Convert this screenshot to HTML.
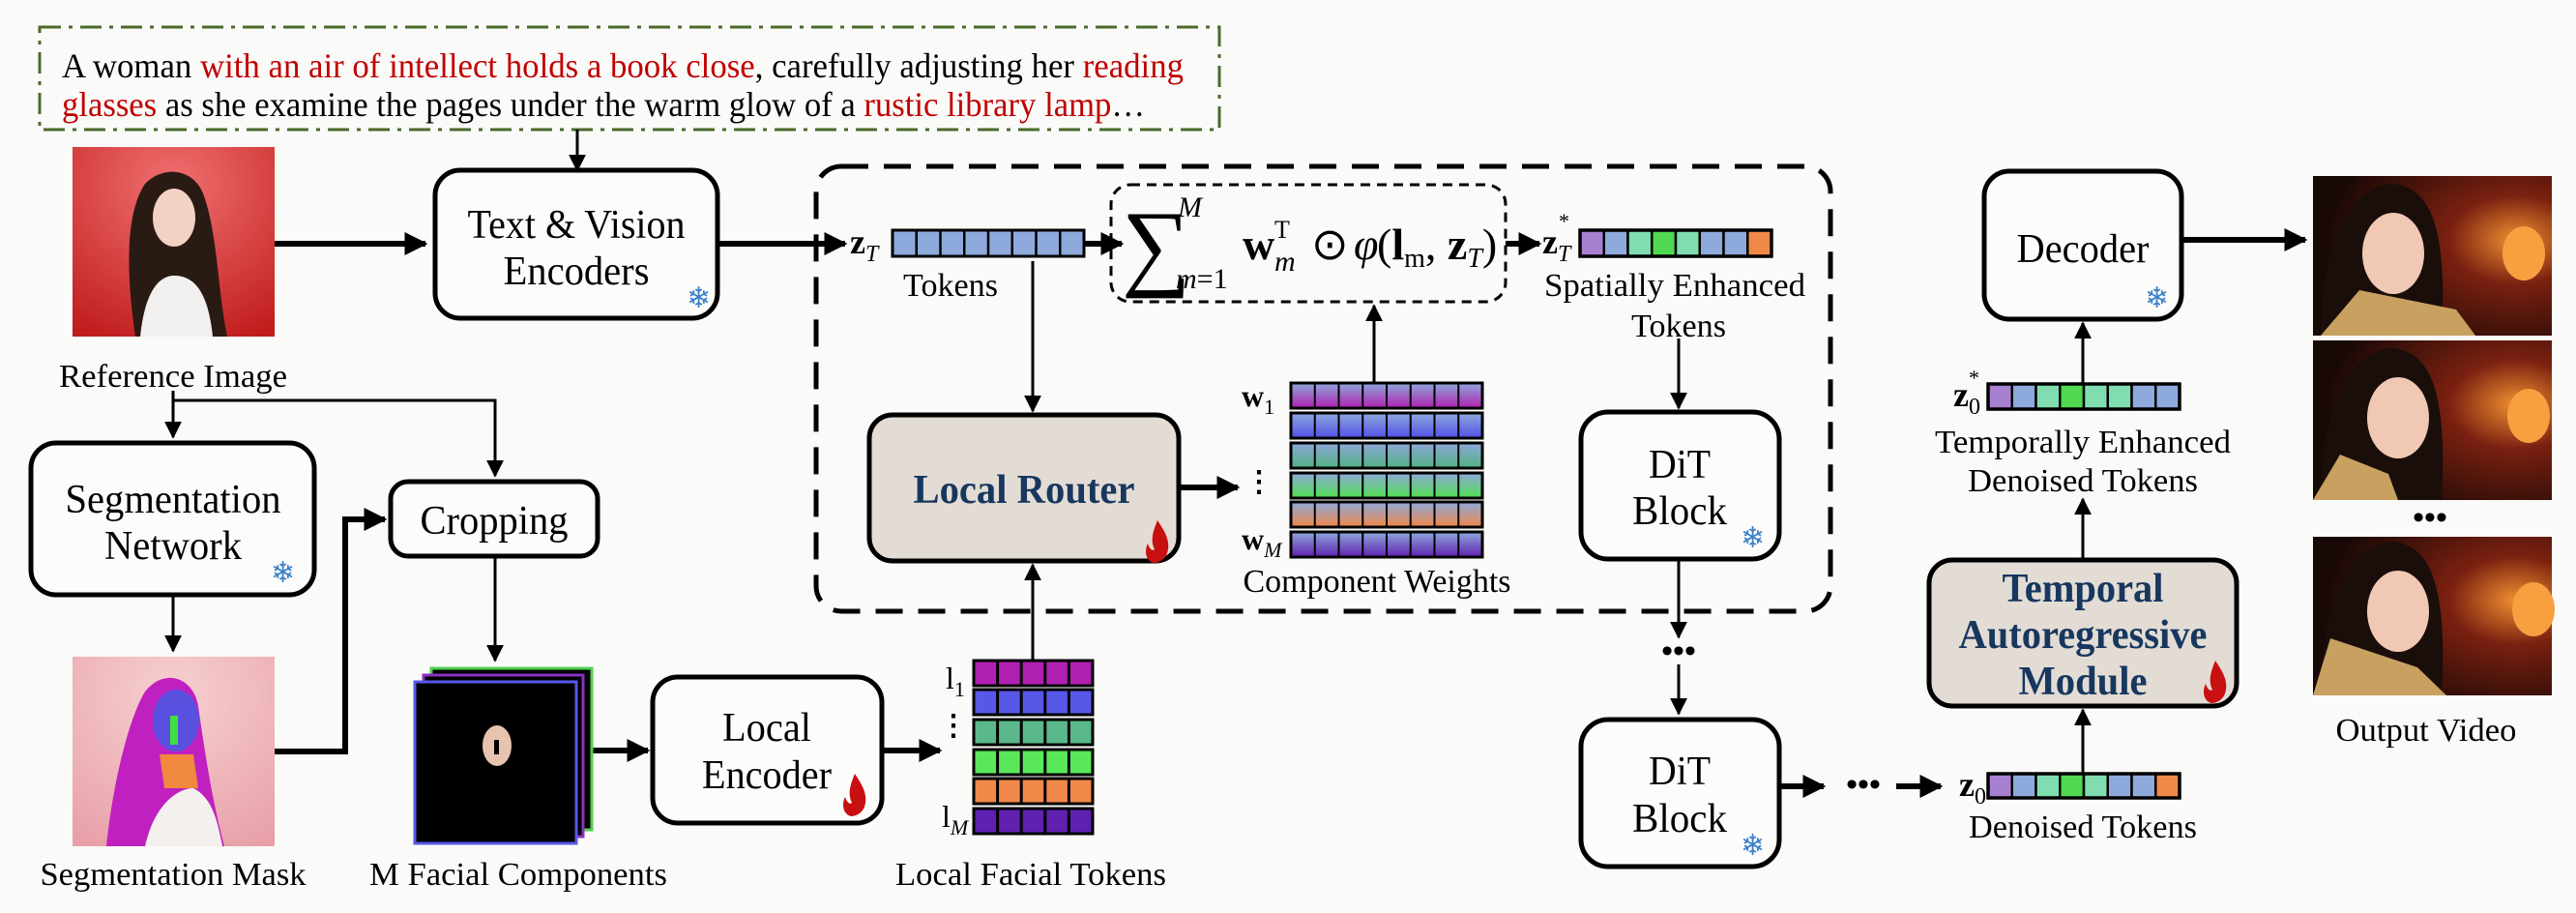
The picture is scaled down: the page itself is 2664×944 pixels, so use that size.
<!DOCTYPE html>
<html><head><meta charset="utf-8"><style>
html,body{margin:0;padding:0;background:#fafaf8;}
svg{display:block;}
svg text{font-family:"Liberation Serif","Times New Roman",serif;fill:#000;}
.b{font-weight:bold;fill:#17375e !important;}
</style></head><body>
<svg width="2664" height="944" viewBox="0 0 2664 944" xmlns="http://www.w3.org/2000/svg" font-family="Liberation Serif, serif">
<defs>
<marker id="ah" viewBox="0 0 10 10" refX="9" refY="5" markerWidth="4" markerHeight="4" orient="auto-start-reverse" markerUnits="strokeWidth"><path d="M0,0 L10,5 L0,10 z" fill="#000"/></marker>
<marker id="ah2" viewBox="0 0 10 10" refX="9" refY="5" markerWidth="6" markerHeight="6" orient="auto" markerUnits="strokeWidth"><path d="M0,0 L10,5 L0,10 z" fill="#000"/></marker>
<linearGradient id="g1" x1="0" y1="0" x2="0" y2="1"><stop offset="0" stop-color="#8ea9db"/><stop offset="1" stop-color="#b020b0"/></linearGradient>
<linearGradient id="g2" x1="0" y1="0" x2="0" y2="1"><stop offset="0" stop-color="#8ea9db"/><stop offset="1" stop-color="#5050e8"/></linearGradient>
<linearGradient id="g3" x1="0" y1="0" x2="0" y2="1"><stop offset="0" stop-color="#8ea9db"/><stop offset="1" stop-color="#50b080"/></linearGradient>
<linearGradient id="g4" x1="0" y1="0" x2="0" y2="1"><stop offset="0" stop-color="#8ea9db"/><stop offset="1" stop-color="#50e050"/></linearGradient>
<linearGradient id="g5" x1="0" y1="0" x2="0" y2="1"><stop offset="0" stop-color="#8ea9db"/><stop offset="1" stop-color="#f08848"/></linearGradient>
<linearGradient id="g6" x1="0" y1="0" x2="0" y2="1"><stop offset="0" stop-color="#8ea9db"/><stop offset="1" stop-color="#6020b0"/></linearGradient>
<radialGradient id="red" cx="0.5" cy="0.2" r="0.9"><stop offset="0" stop-color="#f07070"/><stop offset="1" stop-color="#c01c1c"/></radialGradient>
<radialGradient id="pink" cx="0.5" cy="0.2" r="0.9"><stop offset="0" stop-color="#f6d0d0"/><stop offset="1" stop-color="#e8a0a8"/></radialGradient>
<radialGradient id="vid" cx="0.85" cy="0.4" r="0.8"><stop offset="0" stop-color="#f09030"/><stop offset="0.35" stop-color="#7a2010"/><stop offset="1" stop-color="#180806"/></radialGradient>
<g id="flame"><path d="M0,-22 C8,-10 14,0 10,12 C8,18 2,22 -4,22 C-12,20 -14,10 -10,2 C-8,8 -5,10 -3,8 C-8,-2 -4,-12 0,-22 z" fill="#c81010"/></g>
</defs>

<!-- prompt box -->
<rect x="41" y="28" width="1220" height="106" fill="none" stroke="#4a6a2a" stroke-width="3" stroke-dasharray="22 8 4 8"/>
<text x="64" y="80" font-size="36" textLength="1160" lengthAdjust="spacingAndGlyphs">A woman <tspan style="fill:#c00000">with an air of intellect holds a book close</tspan>, carefully adjusting her <tspan style="fill:#c00000">reading</tspan></text>
<text x="64" y="120" font-size="36" textLength="1120" lengthAdjust="spacingAndGlyphs"><tspan style="fill:#c00000">glasses</tspan> as she examine the pages under the warm glow of a <tspan style="fill:#c00000">rustic library lamp</tspan>…</text>

<g stroke="#000" fill="none">
<line x1="597" y1="134" x2="597" y2="176" stroke-width="3" marker-end="url(#ah2)"/>
<line x1="284" y1="252" x2="440" y2="252" stroke-width="6" marker-end="url(#ah)"/>
<line x1="742" y1="252" x2="874" y2="252" stroke-width="6" marker-end="url(#ah)"/>
</g>

<!-- reference image -->
<rect x="75" y="152" width="209" height="196" fill="url(#red)"/>
<path d="M140,348 C130,280 130,220 150,190 C170,170 200,175 210,200 C225,240 225,300 235,348 z" fill="#2a1a14"/>
<ellipse cx="180" cy="225" rx="22" ry="30" fill="#f2d2c4"/>
<path d="M145,348 C150,300 165,285 180,285 C200,285 215,300 220,348 z" fill="#f2f0ee"/>
<text x="179" y="400" font-size="34" text-anchor="middle" textLength="236" lengthAdjust="spacingAndGlyphs">Reference Image</text>

<!-- TVE box -->
<rect x="450" y="176" width="292" height="153" rx="26" fill="#fcfcfb" stroke="#000" stroke-width="5"/>
<text x="596" y="246" font-size="42" text-anchor="middle" textLength="225" lengthAdjust="spacingAndGlyphs">Text &amp; Vision</text>
<text x="596" y="294" font-size="42" text-anchor="middle" textLength="151" lengthAdjust="spacingAndGlyphs">Encoders</text>
<text x="710" y="318" font-size="30" style="fill:#3a80c8">❄</text>

<!-- split lines -->
<g stroke="#000" fill="none" stroke-width="4">
<polyline points="179,404 179,414 512,414 512,492" marker-end="url(#ah2)" stroke-width="3"/>
<line x1="179" y1="414" x2="179" y2="452" stroke-width="3" marker-end="url(#ah2)"/>
<line x1="179" y1="615" x2="179" y2="673" stroke-width="3" marker-end="url(#ah2)"/>
<polyline points="284,777 357,777 357,537 398,537" stroke-width="6" marker-end="url(#ah)"/>
<line x1="512" y1="575" x2="512" y2="683" stroke-width="3" marker-end="url(#ah2)"/>
<line x1="612" y1="776" x2="670" y2="776" stroke-width="6" marker-end="url(#ah)"/>
<line x1="912" y1="776" x2="972" y2="776" stroke-width="6" marker-end="url(#ah)"/>
</g>

<!-- segmentation network -->
<rect x="32" y="458" width="293" height="157" rx="26" fill="#fcfcfb" stroke="#000" stroke-width="5"/>
<text x="179" y="530" font-size="42" text-anchor="middle" textLength="223" lengthAdjust="spacingAndGlyphs">Segmentation</text>
<text x="179" y="578" font-size="42" text-anchor="middle" textLength="142" lengthAdjust="spacingAndGlyphs">Network</text>
<text x="280" y="602" font-size="30" style="fill:#3a80c8">❄</text>

<!-- seg mask -->
<rect x="75" y="679" width="209" height="196" fill="url(#pink)"/>
<path d="M110,875 C118,800 135,740 150,715 C170,690 200,700 205,730 C212,780 220,830 232,875 z" fill="#c020c0"/>
<ellipse cx="182" cy="745" rx="24" ry="32" fill="#5a50e0"/>
<rect x="176" y="740" width="8" height="30" fill="#40e040"/>
<path d="M165,780 L200,780 L205,815 L170,815 z" fill="#f08840"/>
<path d="M150,875 C160,830 185,815 200,815 C220,825 225,850 230,875 z" fill="#f4f0ee"/>
<text x="179" y="915" font-size="34" text-anchor="middle" textLength="275" lengthAdjust="spacingAndGlyphs">Segmentation Mask</text>

<!-- cropping -->
<rect x="404" y="498" width="214" height="77" rx="18" fill="#fcfcfb" stroke="#000" stroke-width="5"/>
<text x="511" y="552" font-size="42" text-anchor="middle" textLength="153" lengthAdjust="spacingAndGlyphs">Cropping</text>

<!-- facial stack -->
<rect x="446" y="691" width="166" height="167" fill="#000" stroke="#50d050" stroke-width="3"/>
<rect x="438" y="698" width="165" height="167" fill="#000" stroke="#8a30c0" stroke-width="3"/>
<rect x="429" y="705" width="167" height="167" fill="#000" stroke="#5858e8" stroke-width="3"/>
<ellipse cx="514" cy="771" rx="15" ry="21" fill="#e8c4b0"/>
<rect x="511" y="765" width="5" height="15" fill="#000"/>
<text x="536" y="915" font-size="34" text-anchor="middle" textLength="308" lengthAdjust="spacingAndGlyphs">M Facial Components</text>

<!-- local encoder -->
<rect x="675" y="700" width="237" height="151" rx="26" fill="#fcfcfb" stroke="#000" stroke-width="5"/>
<text x="793" y="766" font-size="42" text-anchor="middle" textLength="92" lengthAdjust="spacingAndGlyphs">Local</text>
<text x="793" y="815" font-size="42" text-anchor="middle" textLength="134" lengthAdjust="spacingAndGlyphs">Encoder</text>
<use href="#flame" x="884" y="822"/>

<!-- local facial tokens -->
<text x="986" y="760" font-size="30" font-weight="bold" text-anchor="middle">⋮</text>
<text x="978" y="712" font-size="32">l<tspan font-size="22" dy="8">1</tspan></text>
<text x="974" y="855" font-size="32">l<tspan font-size="22" dy="8" font-style="italic">M</tspan></text>
<g stroke="#000" stroke-width="3">
<rect x="1007" y="683" width="123" height="26" fill="#b020b0"/>
<rect x="1007" y="713" width="123" height="26" fill="#5858e8"/>
<rect x="1007" y="744" width="123" height="26" fill="#5ab88a"/>
<rect x="1007" y="775" width="123" height="26" fill="#5ae85a"/>
<rect x="1007" y="805" width="123" height="26" fill="#f0884a"/>
<rect x="1007" y="836" width="123" height="26" fill="#6020b0"/>
<path d="M1031.6,683 V709 M1056.2,683 V709 M1080.8,683 V709 M1105.4,683 V709 M1031.6,713 V739 M1056.2,713 V739 M1080.8,713 V739 M1105.4,713 V739 M1031.6,744 V770 M1056.2,744 V770 M1080.8,744 V770 M1105.4,744 V770 M1031.6,775 V801 M1056.2,775 V801 M1080.8,775 V801 M1105.4,775 V801 M1031.6,805 V831 M1056.2,805 V831 M1080.8,805 V831 M1105.4,805 V831 M1031.6,836 V862 M1056.2,836 V862 M1080.8,836 V862 M1105.4,836 V862"/>
</g>
<text x="1066" y="915" font-size="34" text-anchor="middle" textLength="280" lengthAdjust="spacingAndGlyphs">Local Facial Tokens</text>

<!-- big dashed box -->
<rect x="844" y="172" width="1049" height="460" rx="26" fill="none" stroke="#000" stroke-width="5" stroke-dasharray="28 16"/>

<!-- z_T tokens -->
<text x="879" y="262" font-size="36" font-weight="bold">z<tspan font-size="24" font-style="italic" font-weight="normal" dy="8">T</tspan></text>
<rect x="923" y="238" width="198" height="27" fill="#8ea9db" stroke="#000" stroke-width="3"/>
<path d="M947.75,238 V265 M972.5,238 V265 M997.25,238 V265 M1022,238 V265 M1046.75,238 V265 M1071.5,238 V265 M1096.25,238 V265" stroke="#000" stroke-width="2.5"/>
<text x="983" y="306" font-size="34" text-anchor="middle" textLength="98" lengthAdjust="spacingAndGlyphs">Tokens</text>

<g stroke="#000" fill="none">
<line x1="1121" y1="252" x2="1160" y2="252" stroke-width="6" marker-end="url(#ah)"/>
<line x1="1068" y1="270" x2="1068" y2="425" stroke-width="3" marker-end="url(#ah2)"/>
<line x1="1068" y1="683" x2="1068" y2="584" stroke-width="3" marker-end="url(#ah2)"/>
<line x1="1219" y1="504" x2="1280" y2="504" stroke-width="6" marker-end="url(#ah)"/>
<line x1="1421" y1="396" x2="1421" y2="316" stroke-width="3" marker-end="url(#ah2)"/>
<line x1="1557" y1="252" x2="1592" y2="252" stroke-width="6" marker-end="url(#ah)"/>
</g>

<!-- formula box -->
<rect x="1149" y="191" width="408" height="121" rx="20" fill="none" stroke="#000" stroke-width="3" stroke-dasharray="10 7"/>
<text x="1160" y="287" font-size="100">∑</text>
<text x="1218" y="224" font-size="30" font-style="italic">M</text>
<text x="1216" y="298" font-size="30" font-style="italic">m<tspan font-style="normal">=1</tspan></text>
<text x="1285" y="268" font-size="46" font-weight="bold">w</text>
<text x="1318" y="246" font-size="26">T</text>
<text x="1318" y="280" font-size="30" font-style="italic">m</text>
<text x="1356" y="268" font-size="46">⊙</text>
<text x="1400" y="268" font-size="46" font-style="italic">φ</text>
<text x="1424" y="268" font-size="46">(<tspan font-weight="bold">l</tspan><tspan font-size="28" dy="8">m</tspan><tspan dy="-8">, </tspan><tspan font-weight="bold">z</tspan><tspan font-size="28" font-style="italic" dy="8">T</tspan><tspan dy="-8">)</tspan></text>

<!-- z_T* -->
<text x="1595" y="262" font-size="36" font-weight="bold">z<tspan font-size="24" font-style="italic" font-weight="normal" dy="8">T</tspan></text>
<text x="1612" y="236" font-size="22">*</text>
<g stroke="#000" stroke-width="2.5">
<rect x="1634" y="238" width="24.75" height="27" fill="#a880d0"/>
<rect x="1658.75" y="238" width="24.75" height="27" fill="#8ea9db"/>
<rect x="1683.5" y="238" width="24.75" height="27" fill="#80ddb0"/>
<rect x="1708.25" y="238" width="24.75" height="27" fill="#50d850"/>
<rect x="1733" y="238" width="24.75" height="27" fill="#80ddb0"/>
<rect x="1757.75" y="238" width="24.75" height="27" fill="#8ea9db"/>
<rect x="1782.5" y="238" width="24.75" height="27" fill="#8ea9db"/>
<rect x="1807.25" y="238" width="24.75" height="27" fill="#f08848"/>
</g>
<rect x="1634" y="238" width="198" height="27" fill="none" stroke="#000" stroke-width="3.5"/>
<text x="1732" y="306" font-size="34" text-anchor="middle" textLength="270" lengthAdjust="spacingAndGlyphs">Spatially Enhanced</text>
<text x="1736" y="348" font-size="34" text-anchor="middle" textLength="98" lengthAdjust="spacingAndGlyphs">Tokens</text>

<!-- local router -->
<rect x="899" y="429" width="320" height="151" rx="24" fill="#e3dcd5" stroke="#000" stroke-width="5"/>
<text x="1059" y="520" font-size="42" class="b" text-anchor="middle" textLength="229" lengthAdjust="spacingAndGlyphs">Local Router</text>
<use href="#flame" x="1197" y="560"/>

<!-- weights -->
<text x="1302" y="508" font-size="30" font-weight="bold" text-anchor="middle">⋮</text>
<text x="1284" y="420" font-size="32" font-weight="bold">w<tspan font-size="22" font-weight="normal" dy="8">1</tspan></text>
<text x="1284" y="568" font-size="32" font-weight="bold">w<tspan font-size="22" font-weight="normal" font-style="italic" dy="8">M</tspan></text>
<g stroke="#000" stroke-width="3">
<rect x="1335" y="396" width="198" height="26" fill="url(#g1)"/>
<rect x="1335" y="427" width="198" height="26" fill="url(#g2)"/>
<rect x="1335" y="458" width="198" height="26" fill="url(#g3)"/>
<rect x="1335" y="489" width="198" height="26" fill="url(#g4)"/>
<rect x="1335" y="519" width="198" height="26" fill="url(#g5)"/>
<rect x="1335" y="550" width="198" height="26" fill="url(#g6)"/>
</g>
<g stroke="#000" stroke-width="2">
<path d="M1359.75,396 V576 M1384.5,396 V576 M1409.25,396 V576 M1434,396 V576 M1458.75,396 V576 M1483.5,396 V576 M1508.25,396 V576" stroke-dasharray="26 5 26 5 26 4 26 5 26 4 26"/>
</g>
<text x="1424" y="612" font-size="34" text-anchor="middle" textLength="277" lengthAdjust="spacingAndGlyphs">Component Weights</text>

<!-- DiT blocks -->
<g stroke="#000" fill="none" stroke-width="3">
<line x1="1736" y1="350" x2="1736" y2="422" marker-end="url(#ah2)"/>
<line x1="1736" y1="578" x2="1736" y2="659" marker-end="url(#ah2)"/>
<line x1="1736" y1="687" x2="1736" y2="738" marker-end="url(#ah2)"/>
</g>
<text x="1736" y="684" font-size="34" font-weight="bold" text-anchor="middle">•••</text>
<rect x="1635" y="426" width="205" height="152" rx="28" fill="#fcfcfb" stroke="#000" stroke-width="5"/>
<text x="1737" y="494" font-size="42" text-anchor="middle" textLength="64" lengthAdjust="spacingAndGlyphs">DiT</text>
<text x="1737" y="542" font-size="42" text-anchor="middle" textLength="98" lengthAdjust="spacingAndGlyphs">Block</text>
<text x="1800" y="566" font-size="30" style="fill:#3a80c8">❄</text>
<rect x="1635" y="744" width="205" height="152" rx="28" fill="#fcfcfb" stroke="#000" stroke-width="5"/>
<text x="1737" y="811" font-size="42" text-anchor="middle" textLength="64" lengthAdjust="spacingAndGlyphs">DiT</text>
<text x="1737" y="860" font-size="42" text-anchor="middle" textLength="98" lengthAdjust="spacingAndGlyphs">Block</text>
<text x="1800" y="884" font-size="30" style="fill:#3a80c8">❄</text>

<g stroke="#000" fill="none" stroke-width="6">
<line x1="1840" y1="813" x2="1886" y2="813" marker-end="url(#ah)"/>
<line x1="1961" y1="813" x2="2007" y2="813" marker-end="url(#ah)"/>
</g>
<text x="1927" y="822" font-size="34" font-weight="bold" text-anchor="middle">•••</text>

<!-- z_0 -->
<text x="2026" y="823" font-size="36" font-weight="bold">z<tspan font-size="24" font-weight="normal" dy="8">0</tspan></text>
<g stroke="#000" stroke-width="2.5">
<rect x="2056" y="800" width="24.75" height="25" fill="#a880d0"/>
<rect x="2080.75" y="800" width="24.75" height="25" fill="#8ea9db"/>
<rect x="2105.5" y="800" width="24.75" height="25" fill="#80ddb0"/>
<rect x="2130.25" y="800" width="24.75" height="25" fill="#50d850"/>
<rect x="2155" y="800" width="24.75" height="25" fill="#80ddb0"/>
<rect x="2179.75" y="800" width="24.75" height="25" fill="#8ea9db"/>
<rect x="2204.5" y="800" width="24.75" height="25" fill="#8ea9db"/>
<rect x="2229.25" y="800" width="24.75" height="25" fill="#f08848"/>
</g>
<rect x="2056" y="800" width="198" height="25" fill="none" stroke="#000" stroke-width="3.5"/>
<text x="2154" y="866" font-size="34" text-anchor="middle" textLength="236" lengthAdjust="spacingAndGlyphs">Denoised Tokens</text>

<g stroke="#000" fill="none" stroke-width="3">
<line x1="2154" y1="800" x2="2154" y2="734" marker-end="url(#ah2)"/>
<line x1="2154" y1="579" x2="2154" y2="516" marker-end="url(#ah2)"/>
<line x1="2154" y1="397" x2="2154" y2="334" marker-end="url(#ah2)"/>
<line x1="2256" y1="248" x2="2384" y2="248" stroke-width="6" marker-end="url(#ah)"/>
</g>

<!-- TAM -->
<rect x="1995" y="579" width="318" height="151" rx="24" fill="#e3dcd5" stroke="#000" stroke-width="5"/>
<text x="2154" y="622" font-size="42" class="b" text-anchor="middle" textLength="167" lengthAdjust="spacingAndGlyphs">Temporal</text>
<text x="2154" y="670" font-size="42" class="b" text-anchor="middle" textLength="257" lengthAdjust="spacingAndGlyphs">Autoregressive</text>
<text x="2154" y="718" font-size="42" class="b" text-anchor="middle" textLength="133" lengthAdjust="spacingAndGlyphs">Module</text>
<use href="#flame" x="2291" y="705"/>

<!-- z0* -->
<text x="2020" y="420" font-size="36" font-weight="bold">z<tspan font-size="24" font-weight="normal" dy="8">0</tspan></text>
<text x="2036" y="398" font-size="22">*</text>
<g stroke="#000" stroke-width="2.5">
<rect x="2056" y="397" width="24.75" height="26" fill="#a880d0"/>
<rect x="2080.75" y="397" width="24.75" height="26" fill="#8ea9db"/>
<rect x="2105.5" y="397" width="24.75" height="26" fill="#80ddb0"/>
<rect x="2130.25" y="397" width="24.75" height="26" fill="#50d850"/>
<rect x="2155" y="397" width="24.75" height="26" fill="#80ddb0"/>
<rect x="2179.75" y="397" width="24.75" height="26" fill="#80ddb0"/>
<rect x="2204.5" y="397" width="24.75" height="26" fill="#8ea9db"/>
<rect x="2229.25" y="397" width="24.75" height="26" fill="#8ea9db"/>
</g>
<rect x="2056" y="397" width="198" height="26" fill="none" stroke="#000" stroke-width="3.5"/>
<text x="2154" y="468" font-size="34" text-anchor="middle" textLength="306" lengthAdjust="spacingAndGlyphs">Temporally Enhanced</text>
<text x="2154" y="508" font-size="34" text-anchor="middle" textLength="238" lengthAdjust="spacingAndGlyphs">Denoised Tokens</text>

<!-- decoder -->
<rect x="2052" y="177" width="204" height="153" rx="26" fill="#fcfcfb" stroke="#000" stroke-width="5"/>
<text x="2154" y="271" font-size="42" text-anchor="middle" textLength="137" lengthAdjust="spacingAndGlyphs">Decoder</text>
<text x="2218" y="318" font-size="30" style="fill:#3a80c8">❄</text>

<!-- video frames -->
<g>
<rect x="2392" y="182" width="247" height="165" fill="url(#vid)"/>
<path d="M2400,347 C2400,270 2420,200 2470,190 C2520,190 2530,250 2525,347 z" fill="#1a0e0a"/>
<ellipse cx="2475" cy="262" rx="32" ry="42" fill="#f0c8b4"/>
<path d="M2400,347 L2440,300 L2540,320 L2560,347 z" fill="#c8a060"/>
<ellipse cx="2610" cy="262" rx="22" ry="28" fill="#f8a040"/>
<rect x="2392" y="352" width="247" height="165" fill="url(#vid)"/>
<path d="M2400,517 C2400,440 2420,370 2470,360 C2520,360 2530,420 2525,517 z" fill="#1a0e0a"/>
<ellipse cx="2480" cy="432" rx="32" ry="42" fill="#f0c8b4"/>
<path d="M2392,517 L2420,470 L2470,490 L2480,517 z" fill="#c8a060"/>
<ellipse cx="2615" cy="430" rx="22" ry="28" fill="#f8a040"/>
<rect x="2392" y="555" width="247" height="164" fill="url(#vid)"/>
<path d="M2400,719 C2400,640 2420,570 2470,560 C2520,560 2530,620 2525,719 z" fill="#1a0e0a"/>
<ellipse cx="2480" cy="632" rx="32" ry="42" fill="#f0c8b4"/>
<path d="M2392,719 L2410,660 L2500,690 L2530,719 z" fill="#c8a060"/>
<ellipse cx="2620" cy="630" rx="22" ry="28" fill="#f8a040"/>
</g>
<text x="2513" y="546" font-size="34" font-weight="bold" text-anchor="middle">•••</text>
<text x="2509" y="766" font-size="34" text-anchor="middle" textLength="187" lengthAdjust="spacingAndGlyphs">Output Video</text>
</svg>
</body></html>
